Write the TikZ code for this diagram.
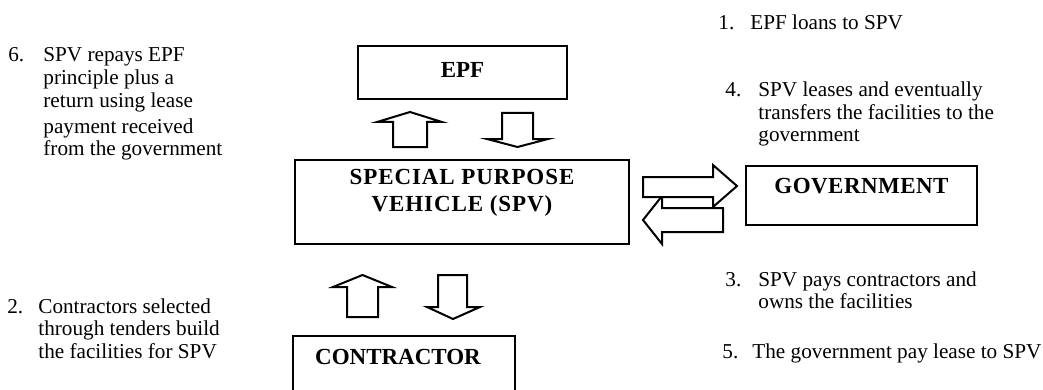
\documentclass[tikz,border=0pt]{standalone}
\usepackage{fontspec}
\setmainfont{Liberation Serif}
\usepackage{array}
\tikzset{
  box/.style={draw=black, line width=1.2pt, inner sep=0pt},
  boxtext/.style={font=\fontsize{11.5}{13.5}\selectfont\bfseries, align=center, inner sep=0pt},
  note/.style={anchor=base west, inner sep=0pt, font=\fontsize{10.6}{11.25}\selectfont},
  blockarrow/.style={draw=black, line width=1pt, fill=white, line join=miter},
}

\begin{document}
\begin{tikzpicture}[x=0.5pt, y=-0.5pt]
    \useasboundingbox (0,0) rectangle (1043,390);

    % boxes
    \node[box, minimum width=104.5pt, minimum height=26.5pt] (epf) at (462.5,72.5) {};
    \node[boxtext] (epf-text) at (462.5,70) {EPF};
    \node[box, minimum width=167pt, minimum height=42pt] (spv) at (462,202) {};
    \node[boxtext] (spv-text) at (462,193) {\addfontfeature{LetterSpace=4}SPECIAL PURPOSE\\\addfontfeature{LetterSpace=4}VEHICLE (SPV)};
    \node[box, minimum width=115.5pt, minimum height=29.5pt] (gov) at (861.5,195.5) {};
    \node[boxtext] (gov-text) at (861.5,186) {\addfontfeature{LetterSpace=2}GOVERNMENT};
    \node[box, minimum width=111pt, minimum height=32pt] (con) at (404,368) {};
    \node[boxtext] (con-text) at (398,357) {CONTRACTOR};

    % EPF and SPV
    \draw[blockarrow] (393,147) -- (393,122) -- (377,122) -- (410,112) -- (442,122) -- (427,122) -- (427,147) -- cycle;
    \draw[blockarrow] (502,113) -- (533,113) -- (533,139) -- (548,139) -- (517.5,147) -- (487,139) -- (502,139) -- cycle;

    % SPV and government
    \draw[blockarrow] (723,208) -- (662,208) -- (662,196) -- (643,220) -- (662,244) -- (662,232) -- (723,232) -- cycle;
    \draw[blockarrow] (643,177) -- (713,177) -- (713,165) -- (737,186) -- (713,207) -- (713,197) -- (643,197) -- cycle;

    % SPV and contractor
    \draw[blockarrow] (347,317) -- (347,287) -- (333,287) -- (362.5,275) -- (392,287) -- (378,287) -- (378,317) -- cycle;
    \draw[blockarrow] (438,275) -- (467,275) -- (467,307) -- (480,307) -- (453,319) -- (427,307) -- (438,307) -- cycle;

    % notes
    \node[note] (note1) at (718,30) {\begin{tabular}[t]{@{}p{16pt}@{}l@{}}
      1. & EPF loans to SPV\end{tabular}};
    \node[note] (note2) at (7,313) {\begin{tabular}[t]{@{}p{15.5pt}@{}l@{}}
      2. & Contractors selected\\ & through tenders build\\ & the facilities for SPV\end{tabular}};
    \node[note] (note3) at (725,286) {\begin{tabular}[t]{@{}p{16.5pt}@{}l@{}}
      3. & SPV pays contractors and\\ & owns the facilities\end{tabular}};
    \node[note] (note4) at (725,97) {\begin{tabular}[t]{@{}p{16.5pt}@{}l@{}}
      4. & SPV leases and eventually\\ & transfers the facilities to the\\ & government\end{tabular}};
    \node[note] (note5) at (722,358) {\begin{tabular}[t]{@{}p{15pt}@{}l@{}}
      5. & The government pay lease to SPV\end{tabular}};
    \node[note] (note6) at (8,62) {\begin{tabular}[t]{@{}p{17.5pt}@{}l@{}}
      6. & SPV repays EPF\\ & principle plus a\\ & return using lease\\[2pt] & payment received\\ & from the government\end{tabular}};
\end{tikzpicture}
\end{document}
